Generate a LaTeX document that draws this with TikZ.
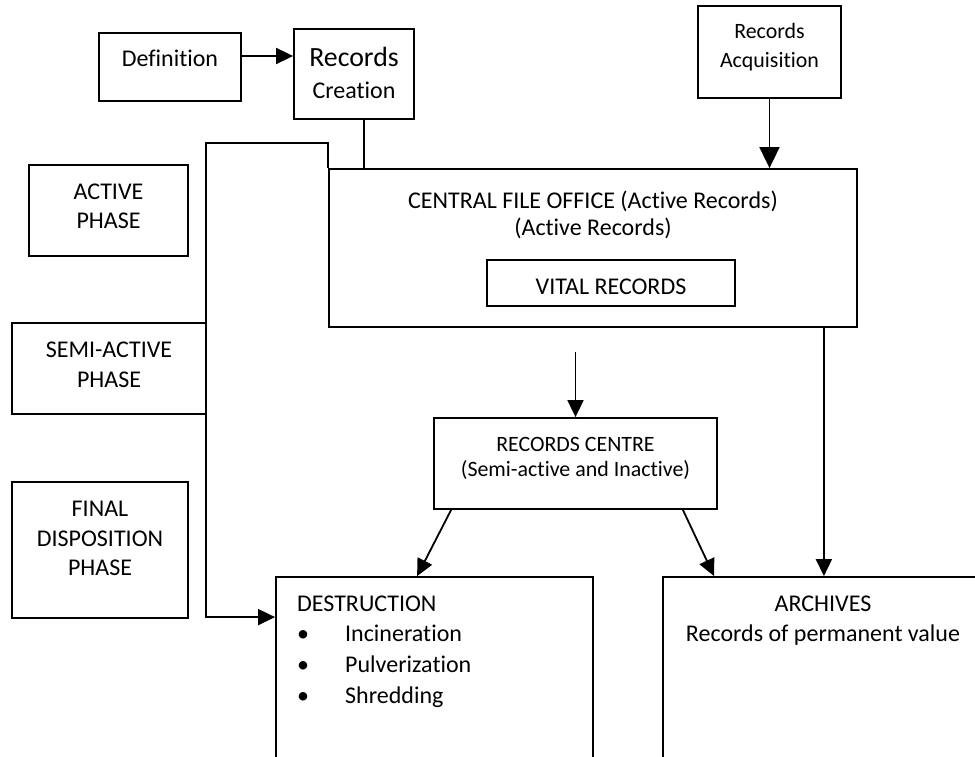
\documentclass[tikz,border=0pt]{standalone}
\usepackage{fontspec}
\setmainfont{Carlito}[Ligatures=NoCommon]
\usetikzlibrary{arrows.meta}
\newcommand{\fsn}{\fontsize{24}{28}\selectfont}
\newcommand{\fsl}{\fontsize{27.8}{32}\selectfont}
\newcommand{\fss}{\fontsize{21.9}{26}\selectfont}
\tikzset{
  box/.style={draw, line width=1.8pt, rectangle, inner sep=0pt},
  arr/.style={line width=1.8pt, -{Triangle[length=17pt,width=16pt]}},
  bigarr/.style={line width=1.8pt, -{Triangle[length=21pt,width=20pt]}},
  ln/.style={line width=1.8pt},
  txt/.style={inner sep=0pt, anchor=base, font=\fsn},
  txtl/.style={inner sep=0pt, anchor=base west, font=\fsn},
}
\begin{document}
\begin{tikzpicture}[x=1pt,y=-1pt]
\clip (0,0) rectangle (975,757);
\fill[white] (0,0) rectangle (975,757);
% boxes
\node[box, minimum width=142pt, minimum height=68pt] (def) at (170,67) {};
\node[box, minimum width=120pt, minimum height=90pt] (creation) at (354,74) {};
\node[box, minimum width=143pt, minimum height=92pt] (acq) at (769.5,52) {};
\node[box, minimum width=159pt, minimum height=91pt] (active) at (108.5,210.5) {};
\node[box, minimum width=194pt, minimum height=91pt] (semi) at (109,368.5) {};
\node[box, minimum width=176pt, minimum height=136pt] (final) at (100,550) {};
\node[box, minimum width=528pt, minimum height=158pt] (cfo) at (593,248) {};
\node[box, minimum width=248pt, minimum height=46pt] (vital) at (611,283) {};
\node[box, minimum width=283pt, minimum height=91pt] (rc) at (575.5,463.5) {};
\node[box, minimum width=317pt, minimum height=223pt] (destr) at (434.5,688.5) {};
\node[box, minimum width=337pt, minimum height=223pt] (arch) at (831.5,688.5) {};
% texts
\node[txt] (tdef) at (170,67) {Definition};
\node[txt, font=\fsl] (tcr1) at (354,67) {Records};
\node[txt] (tcr2) at (354,99) {Creation};
\node[txt, font=\fss] (taq1) at (769.5,39) {Records};
\node[txt, font=\fss] (taq2) at (769.5,68) {Acquisition};
\node[txt] (tac1) at (108.5,200) {ACTIVE};
\node[txt] (tac2) at (108.5,228) {PHASE};
\node[txt] (tse1) at (109,357) {SEMI-ACTIVE};
\node[txt] (tse2) at (109,387) {PHASE};
\node[txt] (tfi1) at (100,516) {FINAL};
\node[txt] (tfi2) at (100,546) {DISPOSITION};
\node[txt] (tfi3) at (100,575) {PHASE};
\node[txt] (tcf1) at (593,208) {CENTRAL FILE OFFICE (Active Records)};
\node[txt] (tcf2) at (593,235) {(Active Records)};
\node[txt] (tvit) at (611,294) {VITAL RECORDS};
\node[txt, font=\fss] (trc1) at (575.5,451) {RECORDS CENTRE};
\node[txt, font=\fss] (trc2) at (575.5,476) {(Semi-active and Inactive)};
\node[txtl] (tde0) at (297,611) {DESTRUCTION};
\node[txtl] (tde1) at (297,641) {\makebox[48pt][l]{•}Incineration};
\node[txtl] (tde2) at (297,672) {\makebox[48pt][l]{•}Pulverization};
\node[txtl] (tde3) at (297,703) {\makebox[48pt][l]{•}Shredding};
\node[txt] (tar1) at (823,611) {ARCHIVES};
\node[txt] (tar2) at (823,641) {Records of permanent value};
% connectors
\draw[arr] ([yshift=11pt]def.east) -- ([yshift=11pt]def.east -| creation.west);
\draw[ln] ([xshift=10pt]creation.south) -- ([xshift=10pt]creation.south |- cfo.north);
\draw[bigarr] (acq.south) -- (acq.south |- cfo.north);
\coordinate (bk) at (206,143);
\draw[arr] (cfo.north west) |- (bk) |- ([yshift=-41pt]destr.north west);
\draw[arr] ([yshift=-24pt]cfo.south -| rc.north) -- (rc.north);
\draw[arr] ([xshift=18pt]rc.south west) -- ([xshift=142pt]destr.north west);
\draw[arr] ([xshift=-35pt]rc.south east) -- ([xshift=52pt]arch.north west);
\draw[arr] ([xshift=-34pt]cfo.south east) -- ([xshift=-34pt]cfo.south east |- arch.north);
\end{tikzpicture}
\end{document}
